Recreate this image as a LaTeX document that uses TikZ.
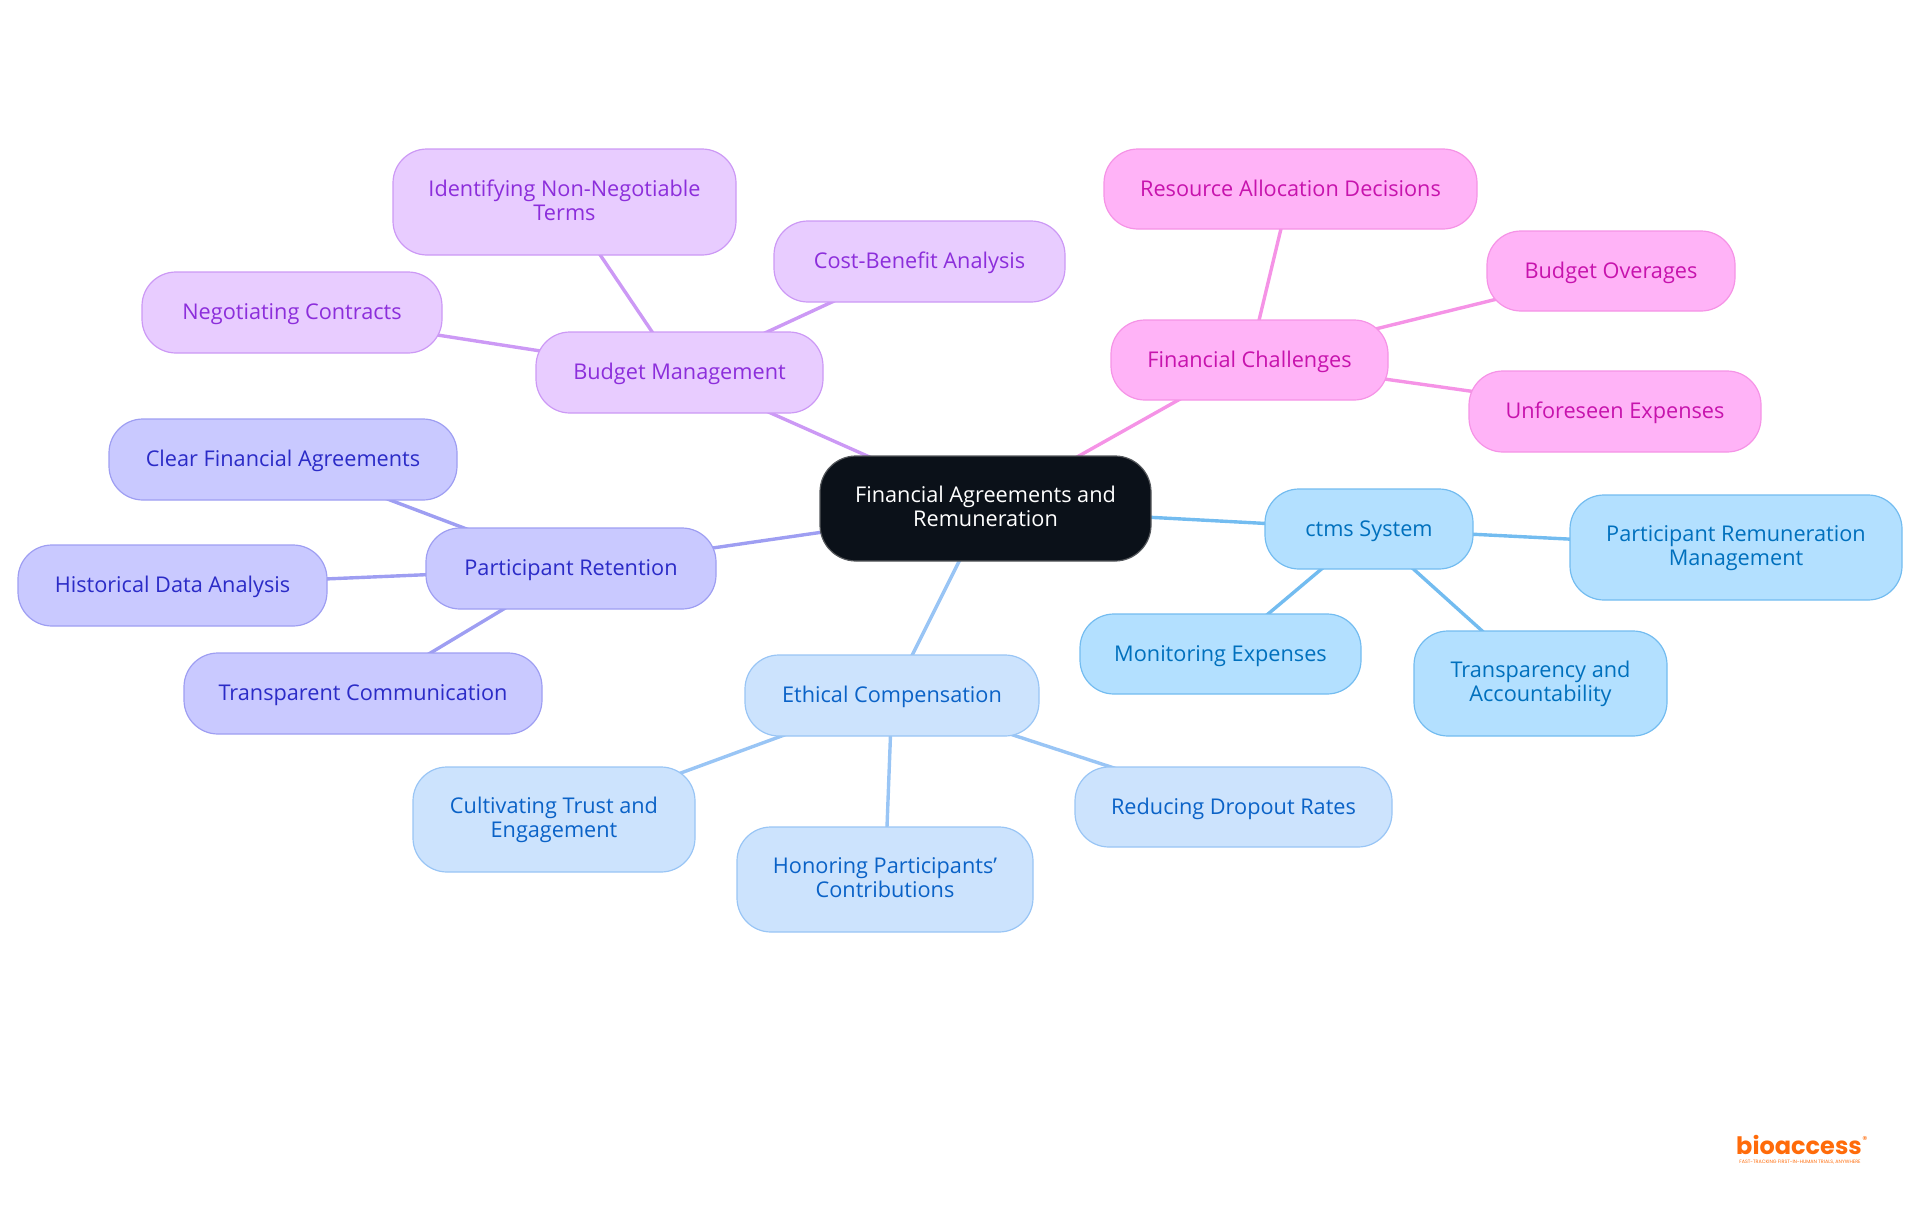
\documentclass[tikz,border=0pt]{standalone}
\usepackage{fontspec}
\setmainfont{Open Sans}
\usetikzlibrary{backgrounds}
\definecolor{rootfill}{HTML}{0B1119}\definecolor{rootline}{HTML}{55585C}
\definecolor{pufill}{HTML}{E8CCFF}\definecolor{puline}{HTML}{CC99F5}\definecolor{putext}{HTML}{8C2EDB}
\definecolor{infill}{HTML}{C9C9FF}\definecolor{inline}{HTML}{9E9EF2}\definecolor{intext}{HTML}{2B2BC7}
\definecolor{blfill}{HTML}{CCE3FD}\definecolor{blline}{HTML}{99C5F5}\definecolor{bltext}{HTML}{0A62C7}
\definecolor{skfill}{HTML}{B3E0FF}\definecolor{skline}{HTML}{73BCF0}\definecolor{sktext}{HTML}{0070BD}
\definecolor{pkfill}{HTML}{FFB3F7}\definecolor{pkline}{HTML}{F593E6}\definecolor{pktext}{HTML}{C713AD}
\definecolor{logo}{HTML}{FF6B0A}
\tikzset{x=1pt,y=-1pt,
  mm/.style={rounded corners=34pt,line width=1.2pt,align=center,font=\fontsize{21.7}{24}\selectfont,inner sep=0pt},
  pu/.style={mm,draw=puline,fill=pufill,text=putext},
  ind/.style={mm,draw=inline,fill=infill,text=intext},
  bl/.style={mm,draw=blline,fill=blfill,text=bltext},
  sk/.style={mm,draw=skline,fill=skfill,text=sktext},
  pk/.style={mm,draw=pkline,fill=pkfill,text=pktext},
  rootn/.style={mm,draw=rootline,fill=rootfill,text=white,rounded corners=36pt},
  lnk/.style={line width=3.4pt},
  logotext/.style={text=logo,inner sep=0pt}}
\newcommand{\onestrut}{\rule[-4.5pt]{0pt}{24pt}}
\newcommand{\twostrut}{\rule[-5.5pt]{0pt}{23pt}}
% \nd{style}{name}{x1}{y1}{x2}{y2}{text}
\newcommand{\nd}[7]{%
  \pgfmathsetmacro{\cxx}{(#3+#5)/2}\pgfmathsetmacro{\cyy}{(#4+#6)/2}%
  \pgfmathsetmacro{\wdd}{#5-#3}\pgfmathsetmacro{\htt}{#6-#4}%
  \node[#1,minimum width=\wdd pt,minimum height=\htt pt] (#2) at (\cxx,\cyy) {#7};}
\begin{document}
\begin{tikzpicture}
\useasboundingbox (0,0) rectangle (1920,1215);
\nd{rootn}{root}{820}{456}{1151}{561}{\twostrut Financial Agreements and\\\twostrut Remuneration}
\nd{pu}{budget}{536}{332}{823}{413}{\onestrut Budget Management}
\nd{pu}{ident}{393}{149}{736}{255}{\twostrut Identifying Non-Negotiable\\\twostrut Terms}
\nd{pu}{cost}{774}{221}{1065}{302}{\onestrut Cost-Benefit Analysis}
\nd{pu}{nego}{142}{272}{442}{353}{\onestrut Negotiating Contracts}
\nd{ind}{retain}{426}{528}{716}{609}{\onestrut Participant Retention}
\nd{ind}{clear}{109}{419}{457}{500}{\onestrut Clear Financial Agreements}
\nd{ind}{hist}{18}{545}{327}{626}{\onestrut Historical Data Analysis}
\nd{ind}{transp}{184}{653}{542}{734}{\onestrut Transparent Communication}
\nd{bl}{ethical}{745}{655}{1039}{736}{\onestrut Ethical Compensation}
\nd{bl}{cult}{413}{767}{695}{872}{\twostrut Cultivating Trust and\\\twostrut Engagement}
\nd{bl}{honor}{737}{827}{1033}{932}{\twostrut Honoring Participants'\\\twostrut Contributions}
\nd{bl}{reduce}{1075}{767}{1392}{847}{\onestrut Reducing Dropout Rates}
\nd{sk}{ctms}{1265}{489}{1473}{569}{\onestrut ctms System}
\nd{sk}{remun}{1570}{495}{1902}{600}{\twostrut Participant Remuneration\\\twostrut Management}
\nd{sk}{monit}{1080}{614}{1361}{694}{\onestrut Monitoring Expenses}
\nd{sk}{account}{1414}{631}{1667}{736}{\twostrut Transparency and\\\twostrut Accountability}
\nd{pk}{chall}{1111}{320}{1388}{400}{\onestrut Financial Challenges}
\nd{pk}{resour}{1104}{149}{1477}{229}{\onestrut Resource Allocation Decisions}
\nd{pk}{over}{1487}{231}{1735}{311}{\onestrut Budget Overages}
\nd{pk}{unfor}{1469}{371}{1761}{452}{\onestrut Unforeseen Expenses}
\node[logotext,font=\fontsize{24}{24}\fontspec{Poppins}\bfseries,anchor=base] (logoa) at (1799,1154.5) {bioaccess};
\node[logotext,font=\fontsize{10}{10}\fontspec{Poppins},anchor=center] (logob) at (1865,1140) {®};
\node[logotext,font=\fontsize{4.8}{5}\fontspec{Poppins},anchor=center] (logoc) at (1800,1162) {FAST-TRACKING FIRST-IN-HUMAN TRIALS, ANYWHERE};
\begin{scope}[on background layer]
\draw[lnk,draw=puline] (root.center)--(budget.center) (budget.center)--(ident.center) (budget.center)--(cost.center) (budget.center)--(nego.center);
\draw[lnk,draw=inline] (root.center)--(retain.center) (retain.center)--(clear.center) (retain.center)--(hist.center) (retain.center)--(transp.center);
\draw[lnk,draw=blline] (root.center)--(ethical.center) (ethical.center)--(cult.center) (ethical.center)--(honor.center) (ethical.center)--(reduce.center);
\draw[lnk,draw=skline] (root.center)--(ctms.center) (ctms.center)--(remun.center) (ctms.center)--(monit.center) (ctms.center)--(account.center);
\draw[lnk,draw=pkline] (root.center)--(chall.center) (chall.center)--(resour.center) (chall.center)--(over.center) (chall.center)--(unfor.center);
\end{scope}
\end{tikzpicture}
\end{document}
